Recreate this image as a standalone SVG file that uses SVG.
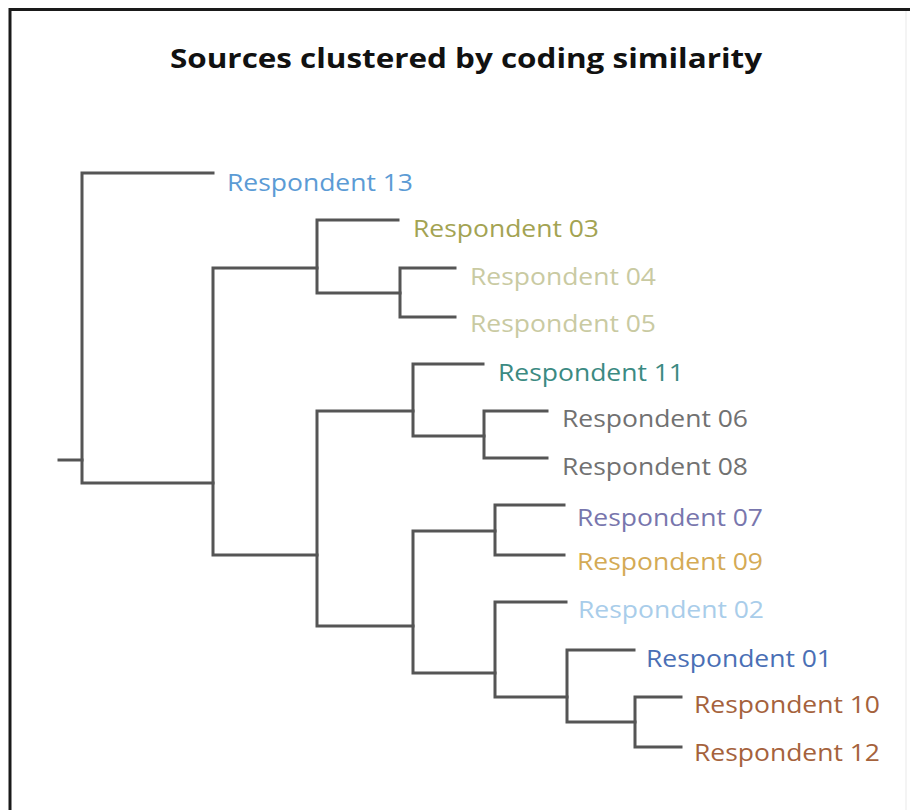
<svg xmlns="http://www.w3.org/2000/svg" width="910" height="810" viewBox="0 0 910 810">
  <style>
    .frame { stroke: #1a1a1a; stroke-width: 3; fill: none; }
    .edge { stroke: #555555; stroke-width: 3; fill: none; stroke-linecap: square; }
    .title { font-family: "Open Sans", "Noto Sans", "DejaVu Sans", sans-serif; font-weight: bold; font-size: 26px; fill: #111111; }
    .leaf { font-family: "Open Sans", "Noto Sans", "DejaVu Sans", sans-serif; font-size: 23px; }
  </style>

  <rect x="0" y="0" width="910" height="810" fill="#ffffff"/>
  <!-- window edges -->
  <path class="frame" d="M10,810 V9.5 H910"/>
  <line x1="906" y1="11" x2="906" y2="810" stroke="#f0f0f0" stroke-width="1.5"/>

  <text class="title" x="466" y="68" text-anchor="middle" textLength="592" lengthAdjust="spacingAndGlyphs">Sources clustered by coding similarity</text>

  <!-- dendrogram branches -->
  <g id="connectors" class="edge">
    <path d="M59,460 H82"/>
    <path d="M213,173 H82 V483 H213"/>
    <path d="M317,268 H213 V555 H317"/>
    <path d="M398,220 H317 V293 H400"/>
    <path d="M455,268 H400 V317 H455"/>
    <path d="M413,411 H317 V626 H413"/>
    <path d="M483,364 H413 V436 H484"/>
    <path d="M547,411 H484 V458 H547"/>
    <path d="M495,531 H413 V673 H495"/>
    <path d="M564,505 H495 V555 H564"/>
    <path d="M566,602 H495 V697 H567"/>
    <path d="M634,650 H567 V722 H635"/>
    <path d="M681,697 H635 V747 H681"/>
  </g>

  <!-- leaves -->
  <g id="respondent-13"><text class="leaf" x="227" y="191" fill="#5b9bd5" textLength="186" lengthAdjust="spacingAndGlyphs">Respondent 13</text></g>
  <g id="respondent-03"><text class="leaf" x="413" y="237" fill="#a3a352" textLength="186" lengthAdjust="spacingAndGlyphs">Respondent 03</text></g>
  <g id="respondent-04"><text class="leaf" x="470" y="285" fill="#c9caa2" textLength="186" lengthAdjust="spacingAndGlyphs">Respondent 04</text></g>
  <g id="respondent-05"><text class="leaf" x="470" y="332" fill="#c9caa2" textLength="186" lengthAdjust="spacingAndGlyphs">Respondent 05</text></g>
  <g id="respondent-11"><text class="leaf" x="498" y="381" fill="#3b8a82" textLength="186" lengthAdjust="spacingAndGlyphs">Respondent 11</text></g>
  <g id="respondent-06"><text class="leaf" x="562" y="427" fill="#717171" textLength="186" lengthAdjust="spacingAndGlyphs">Respondent 06</text></g>
  <g id="respondent-08"><text class="leaf" x="562" y="475" fill="#717171" textLength="186" lengthAdjust="spacingAndGlyphs">Respondent 08</text></g>
  <g id="respondent-07"><text class="leaf" x="577" y="526" fill="#7876ad" textLength="186" lengthAdjust="spacingAndGlyphs">Respondent 07</text></g>
  <g id="respondent-09"><text class="leaf" x="577" y="570" fill="#d4aa55" textLength="186" lengthAdjust="spacingAndGlyphs">Respondent 09</text></g>
  <g id="respondent-02"><text class="leaf" x="578" y="618" fill="#a9cdea" textLength="186" lengthAdjust="spacingAndGlyphs">Respondent 02</text></g>
  <g id="respondent-01"><text class="leaf" x="646" y="667" fill="#4a6fb5" textLength="186" lengthAdjust="spacingAndGlyphs">Respondent 01</text></g>
  <g id="respondent-10"><text class="leaf" x="694" y="713" fill="#a5623c" textLength="186" lengthAdjust="spacingAndGlyphs">Respondent 10</text></g>
  <g id="respondent-12"><text class="leaf" x="694" y="761" fill="#a5623c" textLength="186" lengthAdjust="spacingAndGlyphs">Respondent 12</text></g>
</svg>
